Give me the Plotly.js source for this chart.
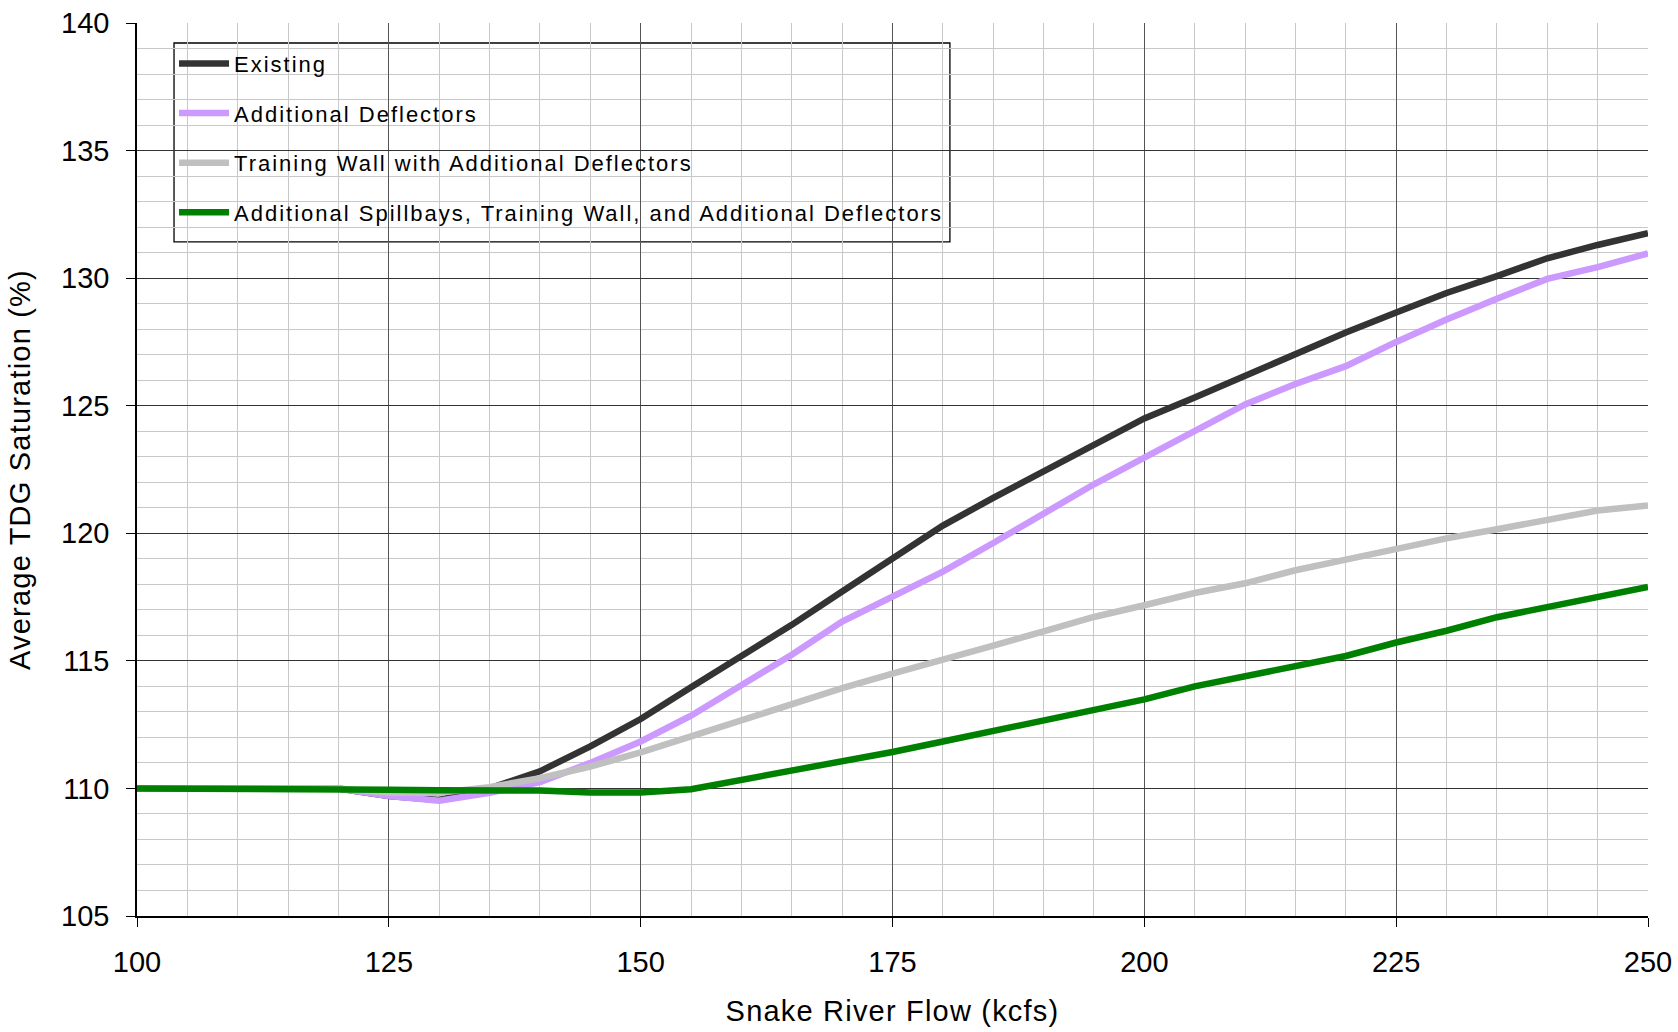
<!DOCTYPE html>
<html>
<head>
<meta charset="utf-8">
<script src="https://cdn.plot.ly/plotly-3.0.1.min.js"></script>
<style>
  html, body { margin: 0; padding: 0; background: #ffffff; }
  #chart { width: 1678px; height: 1032px; }
  #chart .legendtext { letter-spacing: 2px; }
  #chart g.legend g.scrollbox { clip-path: none !important; }
  #chart .g-xtitle text, #chart .g-ytitle text { letter-spacing: 1.2px; }
</style>
</head>
<body>
<div id="chart"></div>
<script>
// Snake River Flow (kcfs)
const flow = [100, 105, 110, 115, 120, 125, 130, 135, 140, 145, 150, 155, 160, 165, 170, 175,
              180, 185, 190, 195, 200, 205, 210, 215, 220, 225, 230, 235, 240, 245, 250];

// Average TDG Saturation (%)
const existing = [110, 110, 110, 110, 110, 109.7, 109.55, 110.0, 110.67, 111.65, 112.72, 113.97,
                  115.17, 116.41, 117.72, 119.0, 120.3, 121.39, 122.45, 123.5, 124.5, 125.32,
                  126.18, 127.0, 127.87, 128.65, 129.42, 130.08, 130.78, 131.3, 131.76];
const additionalDeflectors = [110, 110, 110, 110, 110, 109.7, 109.52, 109.83, 110.25, 111.0, 111.84,
                  112.85, 114.06, 115.24, 116.54, 117.5, 118.5, 119.62, 120.8, 121.92, 122.97,
                  124.03, 125.05, 125.85, 126.55, 127.5, 128.38, 129.19, 129.97, 130.43, 130.97];
const trainingWall = [110, 110, 110, 110, 110, 109.83, 109.83, 110.05, 110.4, 110.86, 111.41, 112.04,
                  112.69, 113.28, 113.93, 114.5, 115.08, 115.6, 116.16, 116.72, 117.18, 117.66,
                  118.04, 118.55, 118.97, 119.39, 119.8, 120.16, 120.52, 120.89, 121.09];
const spillbays = [110, 110, 110, 110, 110, 109.95, 109.93, 109.93, 109.92, 109.84, 109.84, 109.97,
                  110.33, 110.65, 111.06, 111.43, 111.84, 112.24, 112.67, 113.03, 113.49, 114.0,
                  114.4, 114.83, 115.19, 115.72, 116.18, 116.71, 117.11, 117.51, 117.9];

const seriesNames = [
  "Existing",
  "Additional Deflectors",
  "Training Wall with Additional Deflectors",
  "Additional Spillbays, Training Wall, and Additional Deflectors"
];
const seriesValues = [existing, additionalDeflectors, trainingWall, spillbays];
const seriesColors = ["#333333", "#cc99ff", "#c0c0c0", "#008000"];

const xTicks = [100, 125, 150, 175, 200, 225, 250];
const yTicks = [105, 110, 115, 120, 125, 130, 135, 140];

const FONT = "Liberation Sans, Arial, sans-serif";

const traces = seriesValues.map((vals, i) => ({
  type: "scatter",
  mode: "lines",
  x: flow,
  y: vals,
  name: seriesNames[i],
  legendgroup: "g" + i,
  line: { color: seriesColors[i], width: 6.5 },
  hoverinfo: "x+y+name"
}));

const layout = {
  width: 1678,
  height: 1032,
  margin: { l: 137, r: 30, t: 23, b: 116, autoexpand: false },
  paper_bgcolor: "#ffffff",
  plot_bgcolor: "#ffffff",
  font: { family: FONT, color: "#000000", size: 24 },
  showlegend: true,
  legend: {
    x: 0.0245, y: 0.978, xanchor: "left", yanchor: "top",
    bgcolor: "rgba(0,0,0,0)",
    borderwidth: 0,
    font: { family: FONT, size: 22, color: "#000000" },
    tracegroupgap: 18,
    itemwidth: 50
  },
  shapes: [{
    type: "rect", xref: "paper", yref: "paper",
    x0: 0.0245, x1: 0.538, y0: 0.7548, y1: 0.9776,
    layer: "between",
    fillcolor: "#ffffff",
    line: { color: "#000000", width: 1.3 }
  }],
  xaxis: {
    range: [100, 250],
    tickvals: xTicks,
    ticktext: xTicks.map(String),
    ticks: "outside",
    ticklen: 9,
    tickwidth: 1,
    tickcolor: "#000000",
    ticklabelstandoff: 10,
    tickfont: { family: FONT, size: 29, color: "#000000" },
    showline: true,
    linecolor: "#000000",
    linewidth: 1.5,
    showgrid: true,
    gridcolor: "#555555",
    gridwidth: 1,
    zeroline: false,
    minor: { dtick: 5, tick0: 100, showgrid: true, gridcolor: "#c8c8c8", gridwidth: 1, ticks: "" },
    title: { text: "Snake River Flow (kcfs)", font: { family: FONT, size: 29, color: "#000000" }, standoff: 24 },
    automargin: false
  },
  yaxis: {
    range: [105, 140],
    tickvals: yTicks,
    ticktext: yTicks.map(String),
    ticks: "outside",
    ticklen: 9,
    tickwidth: 1,
    tickcolor: "#000000",
    ticklabelstandoff: 11,
    tickfont: { family: FONT, size: 29, color: "#000000" },
    showline: true,
    linecolor: "#000000",
    linewidth: 1.5,
    showgrid: true,
    gridcolor: "#333333",
    gridwidth: 1,
    zeroline: false,
    minor: { dtick: 1, tick0: 105, showgrid: true, gridcolor: "#c8c8c8", gridwidth: 1, ticks: "" },
    title: { text: "Average TDG Saturation (%)", font: { family: FONT, size: 29, color: "#000000" }, standoff: 22 },
    automargin: false
  }
};

Plotly.newPlot("chart", traces, layout, { displayModeBar: false, responsive: false });
</script>
</body>
</html>
